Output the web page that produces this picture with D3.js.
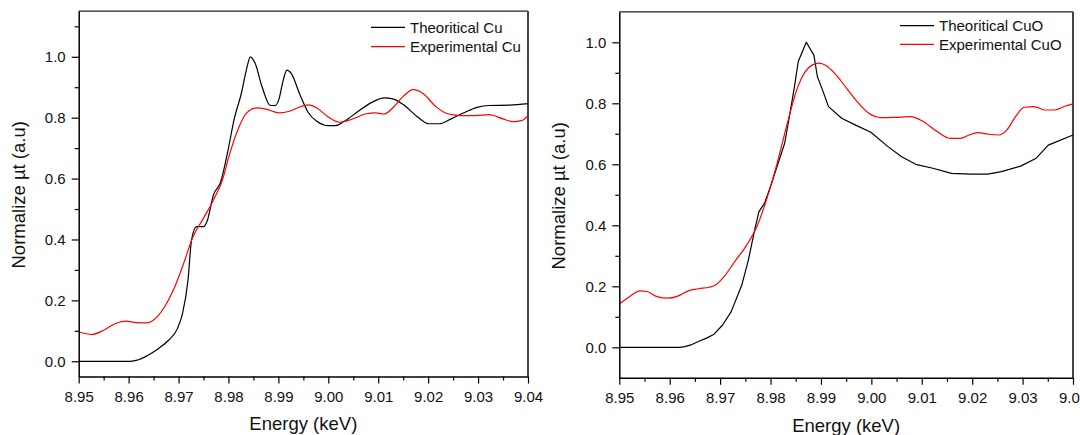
<!DOCTYPE html>
<html><head><meta charset="utf-8">
<script src="https://cdn.jsdelivr.net/npm/d3@7/dist/d3.min.js"></script>
<style>
body{margin:0;background:#fff}
svg{display:block;font-family:"Liberation Sans",Arial,Helvetica,sans-serif}
</style>
</head><body>
<svg id="chart" width="1080" height="435"></svg>
<script>
// ---------- data ----------
const xTicks = [8.95, 8.96, 8.97, 8.98, 8.99, 9.00, 9.01, 9.02, 9.03, 9.04];
const yTicks = [0.0, 0.2, 0.4, 0.6, 0.8, 1.0];
const leftYMinor = [0.1, 0.3, 0.5, 0.7, 0.9, 1.1];
const rightYMinor = [0.1, 0.3, 0.5, 0.7, 0.9];
const xLabel = "Energy (keV)";
const yLabel = "Normalize µt (a.u)";

const cuLegend = ["Theoritical Cu", "Experimental Cu"];
const cuoLegend = ["Theoritical CuO", "Experimental CuO"];

const cuTheoretical = [
  [8.950,0],[8.9601,0],[8.9615,0.003],[8.9639,0.02],[8.966,0.042],[8.968,0.069],
  [8.9698,0.108],[8.9708,0.157],[8.9719,0.267],[8.9726,0.398],[8.9736,0.442],
  [8.975,0.442],[8.9757,0.459],[8.977,0.547],[8.9784,0.587],[8.9798,0.684],
  [8.9812,0.799],[8.9826,0.881],[8.9836,0.958],[8.9844,1.0],[8.9853,0.98],
  [8.9867,0.903],[8.9884,0.84],[8.9894,0.84],[8.9901,0.86],[8.991,0.925],
  [8.9917,0.956],[8.9926,0.945],[8.9943,0.876],[8.996,0.816],[8.9977,0.788],
  [8.9998,0.774],[9.0015,0.774],[9.0032,0.788],[9.006,0.821],[9.0088,0.851],
  [9.0112,0.865],[9.0129,0.862],[9.015,0.843],[9.0177,0.805],[9.0201,0.78],
  [9.0222,0.78],[9.0246,0.796],[9.0274,0.818],[9.0298,0.834],[9.0322,0.84],
  [9.0363,0.841],[9.040,0.846]
];
const cuExperimental = [
  [8.950,0.097],[8.9526,0.088],[8.955,0.102],[8.9574,0.124],[8.9594,0.132],
  [8.9615,0.127],[8.9636,0.126],[8.9657,0.146],[8.9674,0.184],[8.9691,0.239],
  [8.9708,0.311],[8.9729,0.409],[8.975,0.47],[8.977,0.53],[8.9788,0.596],
  [8.9801,0.673],[8.9819,0.761],[8.9836,0.815],[8.9857,0.832],[8.9877,0.827],
  [8.9901,0.816],[8.9922,0.821],[8.9943,0.835],[8.996,0.842],[8.9977,0.832],
  [8.9998,0.805],[9.0022,0.785],[9.0046,0.794],[9.0074,0.812],[9.0094,0.816],
  [9.0112,0.812],[9.0129,0.832],[9.015,0.87],[9.017,0.892],[9.0191,0.878],
  [9.0215,0.837],[9.0239,0.813],[9.0267,0.807],[9.0294,0.807],[9.0322,0.81],
  [9.035,0.796],[9.037,0.787],[9.0388,0.791],[9.040,0.807]
];
const cuoTheoretical = [
  [8.950,0],[8.962,0],[8.963,0.002],[8.9644,0.009],[8.9657,0.019],[8.9673,0.03],
  [8.9688,0.043],[8.9705,0.073],[8.9722,0.117],[8.9743,0.204],[8.9756,0.286],
  [8.977,0.396],[8.9777,0.445],[8.9788,0.472],[8.9801,0.532],[8.9814,0.598],
  [8.9828,0.669],[8.9838,0.762],[8.9847,0.85],[8.9855,0.937],[8.9871,1.0],
  [8.9886,0.958],[8.9893,0.887],[8.9903,0.844],[8.9915,0.789],[8.9941,0.751],
  [8.9972,0.726],[8.9999,0.705],[9.0033,0.658],[9.006,0.625],[9.0088,0.6],
  [9.0122,0.587],[9.0159,0.57],[9.0197,0.568],[9.0231,0.568],[9.0258,0.576],
  [9.0296,0.594],[9.0327,0.62],[9.0351,0.663],[9.040,0.696]
];
const cuoExperimental = [
  [8.950,0.142],[8.952,0.166],[8.9541,0.185],[8.9555,0.183],[8.9575,0.166],
  [8.9596,0.161],[8.9616,0.168],[8.9637,0.185],[8.9657,0.192],[8.9678,0.197],
  [8.9691,0.204],[8.9708,0.232],[8.9729,0.281],[8.9753,0.336],[8.9773,0.396],
  [8.9794,0.494],[8.9814,0.609],[8.9835,0.745],[8.9852,0.844],[8.9869,0.904],
  [8.9883,0.926],[8.9896,0.932],[8.991,0.924],[8.993,0.893],[8.9951,0.849],
  [8.9972,0.805],[8.9995,0.767],[9.0019,0.753],[9.0047,0.754],[9.0077,0.756],
  [9.0101,0.742],[9.0129,0.709],[9.0156,0.685],[9.0177,0.685],[9.0194,0.696],
  [9.0211,0.704],[9.0231,0.699],[9.0252,0.696],[9.0269,0.713],[9.0286,0.756],
  [9.0303,0.787],[9.0323,0.789],[9.0344,0.778],[9.0364,0.778],[9.0385,0.791],
  [9.040,0.798]
];
const xMinor = d3.range(8.955, 9.04, 0.01);

// ---------- drawing ----------
const svg = d3.select("#chart");

function panel(o) {
  const x = d3.scaleLinear().domain([8.95, 9.04]).range([o.left, o.right]);
  const y = d3.scaleLinear().domain(o.yDomain).range([o.bottom, o.top]);
  const g = svg.append("g");

  // frame (top & right)
  g.append("line").attr("x1", o.left).attr("x2", o.right).attr("y1", o.top).attr("y2", o.top)
    .attr("stroke", "#222").attr("stroke-width", 1.2);
  g.append("line").attr("x1", o.right).attr("x2", o.right).attr("y1", o.top).attr("y2", o.bottom)
    .attr("stroke", "#444").attr("stroke-width", 2);

  // curves
  const smooth = d3.line().x(d => x(d[0])).y(d => y(d[1])).curve(d3.curveMonotoneX);
  const theoLine = d3.line().x(d => x(d[0])).y(d => y(d[1])).curve(o.theoCurve);
  g.append("path").datum(o.theo).attr("d", theoLine).attr("fill", "none")
    .attr("stroke", "#000").attr("stroke-width", 1.2).attr("stroke-linejoin", "round");
  g.append("path").datum(o.exp).attr("d", smooth).attr("fill", "none")
    .attr("stroke", "#ff0000").attr("stroke-width", 1.2);

  // axes
  g.append("g").attr("transform", `translate(0,${o.bottom})`)
    .call(d3.axisBottom(x).tickValues(xTicks).tickFormat(d3.format(".2f"))
      .tickSize(7).tickSizeOuter(0).tickPadding(8));
  g.append("g").attr("transform", `translate(0,${o.bottom})`)
    .call(d3.axisBottom(x).tickValues(xMinor).tickFormat("").tickSize(4).tickSizeOuter(0))
    .call(s => s.select(".domain").remove());
  g.append("g").attr("transform", `translate(${o.left},0)`)
    .call(d3.axisLeft(y).tickValues(yTicks).tickFormat(d3.format(".1f"))
      .tickSize(7).tickSizeOuter(0).tickPadding(6));
  g.append("g").attr("transform", `translate(${o.left},0)`)
    .call(d3.axisLeft(y).tickValues(o.yMinor).tickFormat("").tickSize(4).tickSizeOuter(0))
    .call(s => s.select(".domain").remove());

  g.selectAll(".domain").attr("stroke", "#000").attr("stroke-width", 1.5);
  g.selectAll(".tick line").attr("stroke", "#000").attr("stroke-width", 1.2);
  g.selectAll(".tick text").attr("font-size", 15).attr("fill", "#111")
    .attr("font-family", "'Liberation Sans', Arial, sans-serif");

  // titles
  g.append("text").attr("x", (o.left + o.right) / 2).attr("y", o.xTitleY)
    .attr("text-anchor", "middle").attr("font-size", 18.5).attr("fill", "#111").text(xLabel);
  g.append("text").attr("transform", `translate(${o.yTitleX},${(o.top + o.bottom) / 2 + 1}) rotate(-90)`)
    .attr("text-anchor", "middle").attr("font-size", 18.5).attr("fill", "#111").text(yLabel);

  // legend
  const colors = ["#000", "#ff0000"];
  o.legend.forEach((label, i) => {
    const ly = o.legY[i];
    g.append("line").attr("x1", o.legX).attr("x2", o.legX + 34).attr("y1", ly).attr("y2", ly)
      .attr("stroke", colors[i]).attr("stroke-width", 1.2);
    g.append("text").attr("x", o.legX + 39).attr("y", ly + 5.3)
      .attr("font-size", 15).attr("fill", "#111").text(label);
  });
}

panel({
  left: 78.7, right: 528, top: 11.1, bottom: 376.5, yDomain: [-0.05, 1.15],
  yMinor: leftYMinor, theo: cuTheoretical, exp: cuExperimental, theoCurve: d3.curveMonotoneX,
  xTitleY: 430, yTitleX: 25, legend: cuLegend, legX: 371, legY: [27.3, 46.7]
});
panel({
  left: 619.3, right: 1073, top: 11.8, bottom: 377.8, yDomain: [-0.1, 1.1],
  yMinor: rightYMinor, theo: cuoTheoretical, exp: cuoExperimental, theoCurve: d3.curveLinear,
  xTitleY: 432, yTitleX: 565, legend: cuoLegend, legX: 900, legY: [25.7, 44.3]
});
</script>
</body></html>
